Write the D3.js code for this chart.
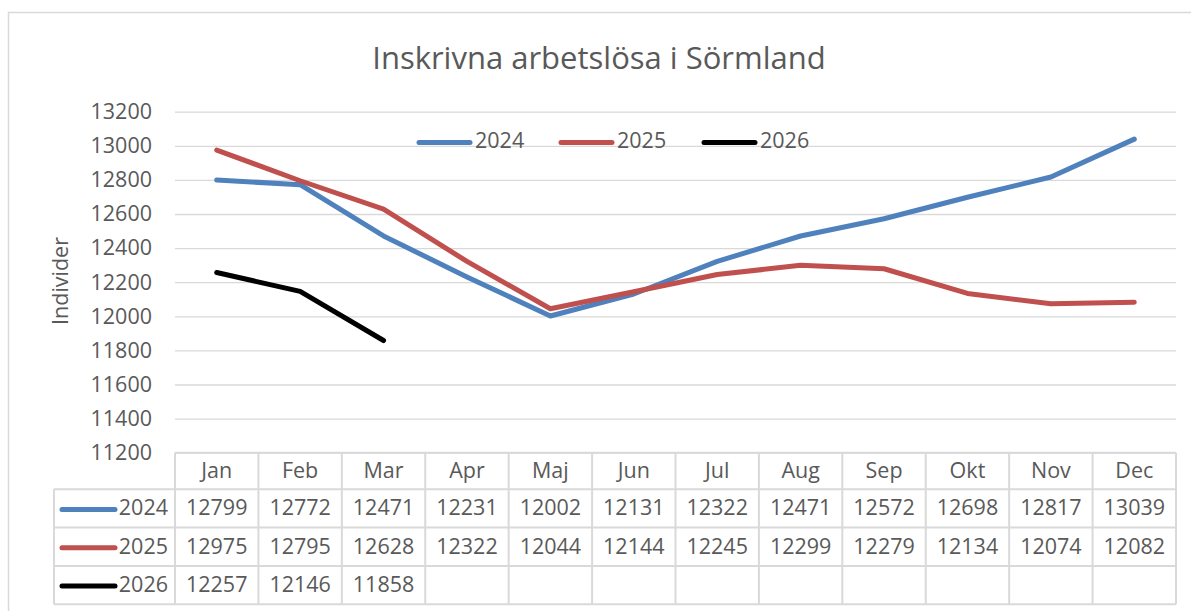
<!DOCTYPE html>
<html>
<head>
<meta charset="utf-8">
<script src="https://cdn.jsdelivr.net/npm/d3@7"></script>
<style>
	body { margin: 0; background: white; }
	svg text { font-family: "Open Sans", sans-serif; fill: #595959; }
</style>
</head>
<body>
<svg class="figure" width="1191" height="611"></svg>
<script>
'use strict' ;

const title = "Inskrivna arbetslösa i Sörmland" ;
const yTitle = "Individer" ;
const months = [ "Jan", "Feb", "Mar", "Apr", "Maj", "Jun", "Jul", "Aug", "Sep", "Okt", "Nov", "Dec" ] ;
const years = [ "2024", "2025", "2026" ] ;
const values2024 = [ 12799, 12772, 12471, 12231, 12002, 12131, 12322, 12471, 12572, 12698, 12817, 13039 ] ;
const values2025 = [ 12975, 12795, 12628, 12322, 12044, 12144, 12245, 12299, 12279, 12134, 12074, 12082 ] ;
const values2026 = [ 12257, 12146, 11858 ] ;
const yTicks = [ 11200, 11400, 11600, 11800, 12000, 12200, 12400, 12600, 12800, 13000, 13200 ] ;

let series = [
	{ name: years[0], values: values2024, colour: '#4f81bd' },
	{ name: years[1], values: values2025, colour: '#c0504d' },
	{ name: years[2], values: values2026, colour: '#000000' }
] ;

let geom = {
	plot: { left: 175, right: 1176, top: 111.7, bottom: 452.7 },
	table: { left: 54, headerHeight: 36.6, rowHeight: 38.3 },
	fontSize: '21.5px',
	grey: '#d9d9d9'
} ;

let svg = d3.select( 'svg.figure' ) ;

// chart border (runs off the page on the right and bottom)
svg.append( 'rect' )
	.attr( 'x', 8.5 )
	.attr( 'y', 12.5 )
	.attr( 'width', 1300 )
	.attr( 'height', 700 )
	.attr( 'fill', 'white' )
	.attr( 'stroke', geom.grey )
	.attr( 'stroke-width', 1.5 ) ;

let x = d3.scaleBand()
	.domain( months )
	.range( [ geom.plot.left, geom.plot.right ] ) ;

let y = d3.scaleLinear()
	.domain( [ 11200, 13200 ] )
	.range( [ geom.plot.bottom, geom.plot.top ] ) ;

// title
svg.append( 'text' )
	.attr( 'x', 599 )
	.attr( 'y', 69 )
	.attr( 'text-anchor', 'middle' )
	.attr( 'font-size', '31px' )
	.text( title ) ;

// y axis title
svg.append( 'text' )
	.attr( 'transform', 'translate(68,281) rotate(-90)' )
	.attr( 'text-anchor', 'middle' )
	.attr( 'font-size', geom.fontSize )
	.text( yTitle ) ;

// gridlines + tick labels
{
	let axis = svg.append( 'g' )
		.attr( 'class', 'axis' )
		.attr( 'transform', 'translate(' + geom.plot.left + ',0)' )
		.call( d3.axisLeft( y )
			.tickValues( yTicks )
			.tickSize( -( geom.plot.right - geom.plot.left ))
			.tickPadding( 23 )
			.tickFormat( d3.format( 'd' ))) ;
	axis.select( '.domain' ).remove() ;
	axis.selectAll( '.tick line' )
		.attr( 'stroke', geom.grey )
		.attr( 'stroke-width', 1.3 ) ;
	axis.selectAll( '.tick text' )
		.attr( 'font-size', geom.fontSize )
		.attr( 'font-family', null )
		.attr( 'fill', '#595959' ) ;
}

// lines
let line = d3.line()
	.x( ( d, i ) => x( months[i] ) + x.bandwidth() / 2 )
	.y( d => y( d )) ;

svg.selectAll( 'path.series' )
	.data( series )
	.enter()
	.append( 'path' )
	.attr( 'class', 'series' )
	.attr( 'd', d => line( d.values ))
	.attr( 'fill', 'none' )
	.attr( 'stroke', d => d.colour )
	.attr( 'stroke-width', 5 )
	.attr( 'stroke-linejoin', 'round' )
	.attr( 'stroke-linecap', 'round' ) ;

// legend inside the plot
{
	let legendX = [ 417, 559, 702 ] ;
	let legend = svg.selectAll( 'g.legend' )
		.data( series )
		.enter()
		.append( 'g' )
		.attr( 'class', 'legend' )
		.attr( 'transform', ( d, i ) => 'translate(' + legendX[i] + ',142.5)' ) ;
	legend.append( 'line' )
		.attr( 'x1', 2 )
		.attr( 'x2', 53 )
		.attr( 'stroke', d => d.colour )
		.attr( 'stroke-width', 5 )
		.attr( 'stroke-linecap', 'round' ) ;
	legend.append( 'text' )
		.attr( 'x', 58 )
		.attr( 'y', 0 )
		.attr( 'dominant-baseline', 'middle' )
		.attr( 'font-size', geom.fontSize )
		.text( d => d.name ) ;
}

// data table
{
	let t = geom.table ;
	let top = geom.plot.bottom ;
	let rowTop = i => top + t.headerHeight + i * t.rowHeight ;
	let bottom = rowTop( series.length ) ;
	let table = svg.append( 'g' ).attr( 'class', 'table' ) ;
	let stroke = sel => sel.attr( 'stroke', geom.grey ).attr( 'stroke-width', 2 ) ;

	// horizontal rules
	table.append( 'line' )
		.attr( 'x1', geom.plot.left ).attr( 'x2', geom.plot.right )
		.attr( 'y1', top ).attr( 'y2', top )
		.call( stroke ) ;
	for( let i = 0; i <= series.length; ++i ) {
		table.append( 'line' )
			.attr( 'x1', t.left ).attr( 'x2', geom.plot.right )
			.attr( 'y1', rowTop( i ) ).attr( 'y2', rowTop( i ) )
			.call( stroke ) ;
	}
	// vertical rules
	table.append( 'line' )
		.attr( 'x1', t.left ).attr( 'x2', t.left )
		.attr( 'y1', rowTop( 0 ) ).attr( 'y2', bottom )
		.call( stroke ) ;
	months.concat( [ null ] ).forEach( m => {
		let xx = m === null ? geom.plot.right : x( m ) ;
		table.append( 'line' )
			.attr( 'x1', xx ).attr( 'x2', xx )
			.attr( 'y1', top ).attr( 'y2', bottom )
			.call( stroke ) ;
	} ) ;

	// header
	table.selectAll( 'text.month' )
		.data( months )
		.enter()
		.append( 'text' )
		.attr( 'class', 'month' )
		.attr( 'x', m => x( m ) + x.bandwidth() / 2 )
		.attr( 'y', top + t.headerHeight / 2 + 1 )
		.attr( 'text-anchor', 'middle' )
		.attr( 'dominant-baseline', 'middle' )
		.attr( 'font-size', geom.fontSize )
		.text( m => m ) ;

	// rows
	series.forEach( ( s, i ) => {
		let cy = rowTop( i ) + t.rowHeight / 2 + 1 ;
		table.append( 'line' )
			.attr( 'x1', 62 ).attr( 'x2', 115 )
			.attr( 'y1', cy ).attr( 'y2', cy )
			.attr( 'stroke', s.colour )
			.attr( 'stroke-width', 5 )
			.attr( 'stroke-linecap', 'round' ) ;
		table.append( 'text' )
			.attr( 'x', 168 )
			.attr( 'y', cy )
			.attr( 'text-anchor', 'end' )
			.attr( 'dominant-baseline', 'middle' )
			.attr( 'font-size', geom.fontSize )
			.text( s.name ) ;
		table.selectAll( 'text.v' + s.name )
			.data( s.values )
			.enter()
			.append( 'text' )
			.attr( 'x', ( d, j ) => x( months[j] ) + x.bandwidth() / 2 )
			.attr( 'y', cy )
			.attr( 'text-anchor', 'middle' )
			.attr( 'dominant-baseline', 'middle' )
			.attr( 'font-size', geom.fontSize )
			.text( d => d ) ;
	} ) ;
}
</script>
</body>
</html>
